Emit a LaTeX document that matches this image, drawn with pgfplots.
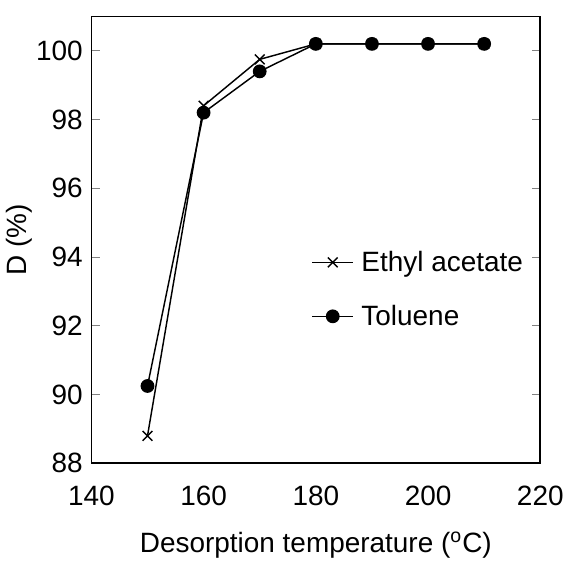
\documentclass[border=0pt]{standalone}
\usepackage{pgfplots}
\pgfplotsset{compat=1.18}
\usepackage{fontspec}
\setmainfont{Liberation Sans}
\begin{document}
\begin{tikzpicture}
\begin{axis}[
  scale only axis,
  width=233pt,
  height=232pt,
  xmin=140, xmax=220,
  ymin=88, ymax=101,
  xtick={140,160,180,200,220},
  ytick={88,90,...,100},
  major x tick style={draw=none},
  major y tick style={gray, line width=0.4pt},
  tick align=inside,
  y tick label style={xshift=-1pt},
  x tick label style={yshift=-8pt},
  tick label style={font=\fontsize{14.5}{17}\selectfont},
  label style={font=\fontsize{14.5}{17}\selectfont},
  /pgf/number format/assume math mode=true,
  axis line style={line width=0.9pt},
  xlabel={Desorption temperature (\textsuperscript{o}C)},
  ylabel={D (\%)},
  xlabel style={yshift=-7pt},
  ylabel style={yshift=-5pt},
  legend style={draw=none, fill=none, at={(0.49,0.485)}, anchor=north west,
    font=\fontsize{14.5}{17}\selectfont, row sep=12pt, column sep=2pt, inner sep=0pt},
  legend cell align=left,
  legend image code/.code={\draw[mark repeat=2,mark phase=2]
    plot coordinates {(0cm,0cm) (0.37cm,0cm) (0.74cm,0cm)};},
]
\addplot[black, line width=0.75pt, mark=x, mark size=3.6pt,
  mark options={line width=0.75pt}] coordinates {
  (150,88.8) (160,98.4) (170,99.75) (180,100.2) (190,100.2) (200,100.2) (210,100.2)
};
\addlegendentry{Ethyl acetate}
\addplot[black, line width=0.75pt, mark=*, mark size=3.2pt] coordinates {
  (150,90.25) (160,98.2) (170,99.4) (180,100.2) (190,100.2) (200,100.2) (210,100.2)
};
\addlegendentry{Toluene}
\end{axis}
\node[inner sep=0pt] at ([yshift=8pt]current axis.north) {};
\end{tikzpicture}
\end{document}
